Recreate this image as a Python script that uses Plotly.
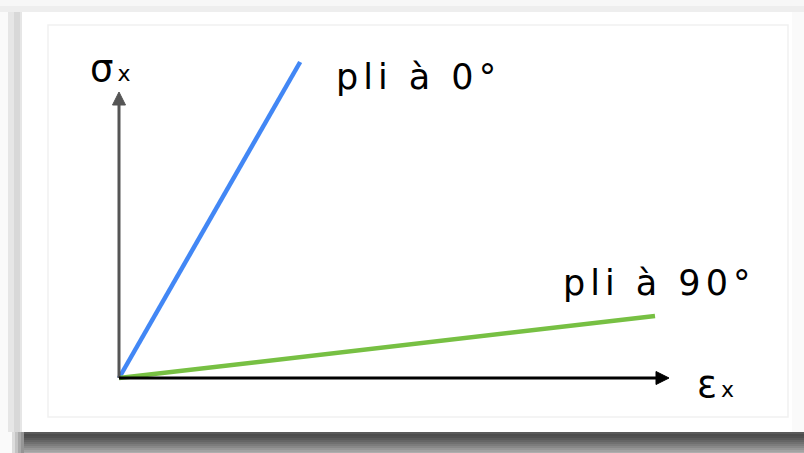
import plotly.graph_objects as go

# Schematic stress-strain response of a single ply loaded along x
strain = [0.0, 0.338]          # ply at 0 deg (fibre direction)
stress_0 = [0.0, 1.0]
strain_90 = [0.0, 1.0]         # ply at 90 deg (transverse)
stress_90 = [0.0, 0.196]

labels = ["pli à 0°", "pli à 90°"]
axis_symbols = ["σ", "ε"]
axis_index = "x"

W, H = 804, 453
X0_PX, Y0_PX = 119, 378        # origin position on the page
SX, SY = 536.0, 316.0          # pixels per unit along x and y

def dx(px):
    return (px - X0_PX) / SX

def dy(py):
    return (Y0_PX - py) / SY

def spaced(txt, px):
    return f'<span style="letter-spacing:{px}px">{txt}</span>'

def with_index(sym):
    return (f'<span style="letter-spacing:4px">{sym}</span>'
            f'<span style="font-size:22px;letter-spacing:3px">{axis_index}</span>')

fig = go.Figure()

fig.add_trace(go.Scatter(x=strain, y=stress_0, mode="lines",
                         line=dict(color="#4287f5", width=4.5),
                         hoverinfo="skip", showlegend=False))
fig.add_trace(go.Scatter(x=strain_90, y=stress_90, mode="lines",
                         line=dict(color="#77c043", width=4.5),
                         hoverinfo="skip", showlegend=False))

# Card background, frame and drop shadow (page pixels -> paper coordinates)
def rect(x0, y0, x1, y1, fill, line=None, width=0, layer="below"):
    return dict(type="rect", xref="paper", yref="paper",
                x0=x0 / W, x1=x1 / W, y0=1 - y1 / H, y1=1 - y0 / H,
                fillcolor=fill, line=dict(color=line or fill, width=width),
                layer=layer)

shapes = [
    rect(0, 0, W, H, "#fafafa"),
    rect(0, 0, W, 6, "#f7f7f7"),
    rect(0, 6, W, 12, "#eeeeee"),
    rect(8, 12, 22, 432, "#e6e6e6"),
    rect(14, 12, 20, 432, "#d8d8d8"),
    rect(22, 12, 792, 432, "#ffffff"),
    dict(type="rect", xref="paper", yref="paper",
         x0=48 / W, x1=788 / W, y0=1 - 417 / H, y1=1 - 25 / H,
         fillcolor="rgba(0,0,0,0)", line=dict(color="#f1f1f1", width=1.5),
         layer="below"),
]
shadow = ["#5a5a5a", "#4c4c4c", "#505050", "#5a5a5a", "#656565", "#707070",
          "#7c7c7c", "#888888", "#959595", "#a2a2a2", "#aeaeae"]
for i, c in enumerate(shadow):
    shapes.append(rect(22, 432 + 2 * i, W, 434 + 2 * i, c))
for i, c in enumerate(["#dcdcdc", "#c4c4c4", "#aaaaaa", "#959595"]):
    shapes.append(rect(12 + 3 * i, 432, 15 + 3 * i, H, c))

# Axes drawn as lines from the origin with triangular heads
y_tip, x_tip = dy(92), dx(669)
hx, hy = 6.5 / SX, 6.5 / SY        # half-width of a head
lx, ly = 13 / SX, 13 / SY          # head length
shapes += [
    dict(type="line", xref="x", yref="y", x0=0, y0=0, x1=0, y1=y_tip - ly,
         line=dict(color="#555555", width=3), layer="above"),
    dict(type="path", xref="x", yref="y",
         path=f"M {-hx} {y_tip - ly} L 0 {y_tip} L {hx} {y_tip - ly} Z",
         fillcolor="#555555", line=dict(color="#555555", width=1), layer="above"),
    dict(type="line", xref="x", yref="y", x0=0, y0=0, x1=x_tip - lx, y1=0,
         line=dict(color="#000000", width=3), layer="above"),
    dict(type="path", xref="x", yref="y",
         path=f"M {x_tip - lx} {-hy} L {x_tip} 0 L {x_tip - lx} {hy} Z",
         fillcolor="#000000", line=dict(color="#000000", width=1), layer="above"),
]

annotations = [
    dict(x=dx(88), y=dy(68), xref="x", yref="y",
         text=with_index(axis_symbols[0]),
         showarrow=False, xanchor="left", yanchor="middle",
         font=dict(family="DejaVu Sans", size=37, color="#000000")),
    dict(x=dx(695), y=dy(384), xref="x", yref="y",
         text=with_index(axis_symbols[1]),
         showarrow=False, xanchor="left", yanchor="middle",
         font=dict(family="DejaVu Sans", size=37, color="#000000")),
    dict(x=dx(334), y=dy(77), xref="x", yref="y", text=spaced(labels[0], 5),
         showarrow=False, xanchor="left", yanchor="middle",
         font=dict(family="DejaVu Sans", size=35, color="#000000")),
    dict(x=dx(561), y=dy(283), xref="x", yref="y", text=spaced(labels[1], 5),
         showarrow=False, xanchor="left", yanchor="middle",
         font=dict(family="DejaVu Sans", size=35, color="#000000")),
]

fig.update_layout(
    width=W, height=H,
    margin=dict(l=0, r=0, t=0, b=0),
    paper_bgcolor="#ffffff", plot_bgcolor="rgba(0,0,0,0)",
    xaxis=dict(range=[dx(0), dx(W)], visible=False, fixedrange=True),
    yaxis=dict(range=[dy(H), dy(0)], visible=False, fixedrange=True),
    shapes=shapes, annotations=annotations,
    showlegend=False,
)

fig.write_html("out.html", config={"displayModeBar": False})
